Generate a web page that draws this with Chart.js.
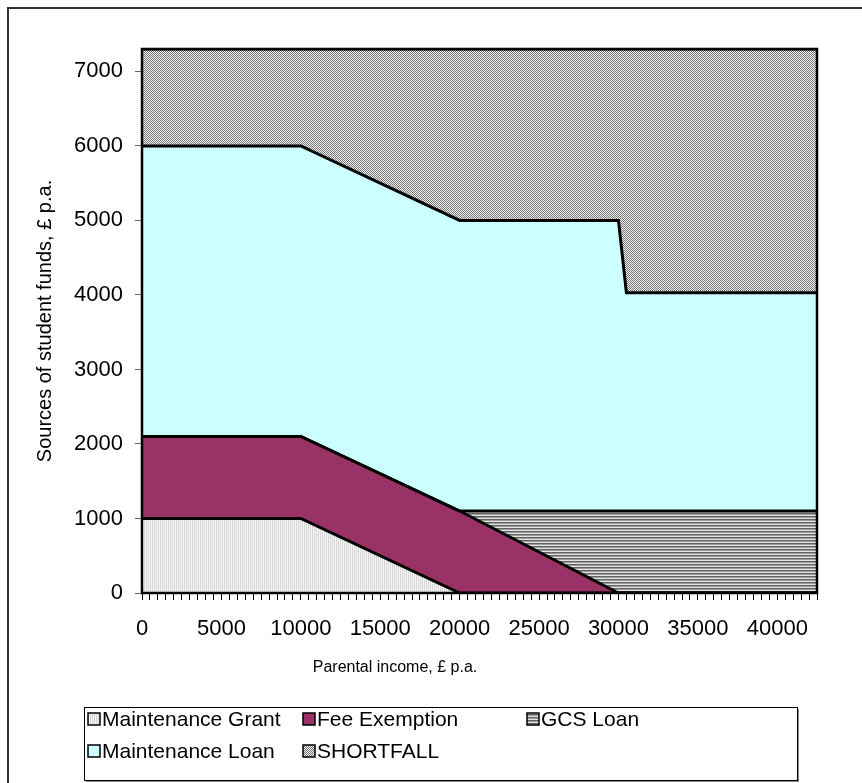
<!DOCTYPE html>
<html>
<head>
<meta charset="utf-8">
<script src="https://cdn.jsdelivr.net/npm/chart.js@4.4.1/dist/chart.umd.min.js"></script>
<style>
  html, body { margin: 0; padding: 0; background: #fff; overflow: hidden; }
  #wrap { position: absolute; left: 0; top: 0; width: 862px; height: 783px; }
</style>
</head>
<body>
<div id="wrap"><canvas id="grafico" width="862" height="783"></canvas></div>
<script>
// Parental income break points (x) shared by all series
const income = [0, 10000, 20000, 30000, 30500, 42500];

// Stacked sources of funds, £ p.a.
const maintenanceGrant = [1000, 1000, 0, 0, 0, 0];
const feeExemption     = [1100, 1100, 1100, 0, 0, 0];
const gcsLoan          = [0, 0, 0, 1100, 1100, 1100];
const maintenanceLoan  = [3900, 3900, 3900, 3900, 2930, 2930];
const shortfall        = [1300, 1300, 2300, 2300, 3270, 3270];

const seriesNames = ['Maintenance Grant', 'Fee Exemption', 'GCS Loan', 'Maintenance Loan', 'SHORTFALL'];
const yTicks = [0, 1000, 2000, 3000, 4000, 5000, 6000, 7000];

const FONT = '"Liberation Sans", Arial, sans-serif';
const canvas = document.getElementById('grafico');
const ctx = canvas.getContext('2d');

// small tile -> CanvasPattern
function makePattern(w, h, pixel) {
  const c = document.createElement('canvas');
  c.width = w; c.height = h;
  const g = c.getContext('2d');
  for (let x = 0; x < w; x++) {
    for (let y = 0; y < h; y++) {
      g.fillStyle = pixel(x, y);
      g.fillRect(x, y, 1, 1);
    }
  }
  return ctx.createPattern(c, 'repeat');
}

const patGrant = makePattern(2, 2, (x) => x === 0 ? '#d6d6d6' : '#f6f6f6');
const patGcs = makePattern(3, 3, (x, y) => ['#636363', '#9c9c9c', '#e2e2e2'][y]);
const patShort = makePattern(2, 2, (x, y) => ((x + y) % 2 === 0) ? '#747474' : '#f4f4f4');

const fills = [patGrant, '#993366', patGcs, '#ccffff', patShort];
const valores = [maintenanceGrant, feeExemption, gcsLoan, maintenanceLoan, shortfall];

const datasets = valores.map((serie, i) => ({
  label: seriesNames[i],
  data: serie.map((v, k) => ({ x: income[k], y: v })),
  backgroundColor: fills[i],
  borderColor: '#000',
  borderWidth: 3,
  borderJoinStyle: 'miter',
  pointRadius: 0,
  tension: 0,
  fill: i === 0 ? 'origin' : '-1'
}));

// moldura externa, borda da área, título do eixo x e legenda desenhada à mão
const extras = {
  id: 'extras',
  afterDraw(chart) {
    const c = chart.ctx;
    const a = chart.chartArea;
    c.save();
    // outer frame (cut off at right/bottom like the picture)
    c.strokeStyle = '#333';
    c.lineWidth = 2;
    c.strokeRect(8, 8, 1000, 1000);
    // plot border
    c.strokeStyle = '#000';
    c.lineWidth = 2.5;
    c.strokeRect(a.left, a.top, a.right - a.left, a.bottom - a.top);

    // x axis title, sits left of centre in the original
    c.fillStyle = '#000';
    c.font = '16px ' + FONT;
    c.textAlign = 'center';
    c.textBaseline = 'middle';
    c.fillText('Parental income, £ p.a.', 395, 668);

    // legend box
    const bx = 84, by = 707, bw = 713, bh = 73;
    c.fillStyle = '#888';
    c.fillRect(bx + 2, by + bh, bw, 2);
    c.fillRect(bx + bw, by + 2, 2, bh);
    c.fillStyle = '#fff';
    c.fillRect(bx, by, bw, bh);
    c.strokeStyle = '#000';
    c.lineWidth = 1;
    c.strokeRect(bx + 0.5, by + 0.5, bw, bh);

    const cols = [88, 303, 527];
    const rows = [719, 751];
    c.font = '21px ' + FONT;
    c.textAlign = 'left';
    chart.data.datasets.forEach((ds, i) => {
      const x = cols[i % 3], y = rows[Math.floor(i / 3)];
      c.fillStyle = ds.backgroundColor;
      c.fillRect(x, y - 6, 12, 12);
      c.strokeStyle = '#000';
      c.lineWidth = 1.5;
      c.strokeRect(x, y - 6, 12, 12);
      c.fillStyle = '#000';
      c.fillText(ds.label, x + 14, y + 1);
    });
    c.restore();
  }
};

new Chart(canvas, {
  type: 'line',
  data: { datasets },
  options: {
    responsive: false,
    animation: false,
    layout: { padding: { left: 0, top: 49, right: 45, bottom: 93 } },
    plugins: {
      legend: { display: false },
      tooltip: { enabled: false }
    },
    scales: {
      x: {
        type: 'linear',
        min: 0,
        max: 42500,
        grid: { drawOnChartArea: false, tickLength: 7, color: '#000', tickColor: '#000' },
        border: { display: false },
        ticks: {
          stepSize: 500,
          autoSkip: false,
          maxRotation: 0,
          padding: 16,
          color: '#000',
          font: { family: FONT, size: 22 },
          callback: (v) => (v % 5000 === 0 ? String(v) : '')
        },
        afterFit: (s) => { s.height = 97; }
      },
      y: {
        stacked: true,
        min: 0,
        max: 7300,
        grid: { drawOnChartArea: false, tickLength: 7, color: '#666', tickColor: '#666' },
        border: { display: false },
        afterBuildTicks: (s) => { s.ticks = yTicks.map(v => ({ value: v })); },
        ticks: {
          padding: 12,
          color: '#000',
          font: { family: FONT, size: 22 },
          callback: (v) => String(v)
        },
        title: {
          display: true,
          text: 'Sources of student funds, £ p.a.',
          color: '#000',
          font: { family: FONT, size: 20 },
          padding: { top: 33, bottom: 0 }
        },
        afterFit: (s) => { s.width = 142; }
      }
    }
  },
  plugins: [extras]
});
</script>
</body>
</html>
